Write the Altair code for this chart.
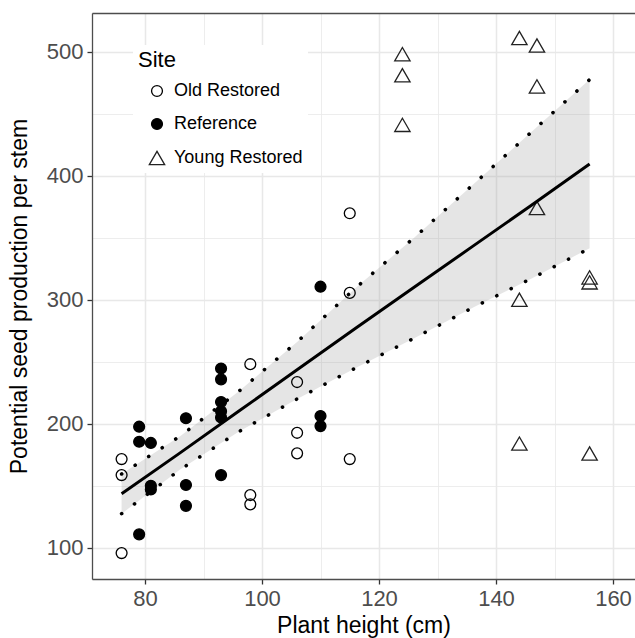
import altair as alt
import pandas as pd

# ---- data ----
site_names = ["Old Restored", "Reference", "Young Restored"]

old_height = [76, 76, 76, 98, 98, 98, 106, 106, 106, 115, 115, 115]
old_seed = [171.5, 158.6, 95.7, 248.0, 142.5, 135.0, 233.6, 192.7, 176.1, 171.5, 369.7, 305.5]

ref_height = [79, 79, 79, 81, 81, 81, 87, 87, 87, 93, 93, 93, 93, 93, 93, 110, 110, 110]
ref_seed = [197.6, 185.5, 110.8, 184.5, 150.0, 147.0, 204.4, 150.6, 133.8,
            244.5, 235.8, 217.5, 210.0, 205.0, 158.6, 310.5, 206.2, 198.1]

young_height = [124, 124, 124, 144, 144, 144, 147, 147, 147, 156, 156, 156]
young_seed = [498.0, 481.0, 441.0, 511.0, 300.0, 184.0, 505.0, 472.0, 374.0, 318.0, 314.0, 176.0]

band_height = [76, 86, 96, 106, 116, 126, 136, 146, 156]
band_fit = [143.5, 176.5, 210.0, 243.5, 277.0, 310.0, 343.0, 376.0, 409.5]
band_lower = [127.5, 163.0, 193.5, 220.0, 245.0, 269.0, 293.5, 317.0, 341.5]
band_upper = [159.5, 190.0, 226.0, 266.0, 309.5, 350.0, 392.5, 435.0, 477.5]

x_ticks = [80, 90, 100, 110, 120, 130, 140, 150, 160]
y_ticks = [100, 150, 200, 250, 300, 350, 400, 450, 500]
x_domain = [70.94, 163.76]
y_domain = [74.8, 531.2]

# ---- tables ----
points = pd.DataFrame({
    "height": old_height + ref_height + young_height,
    "seed": old_seed + ref_seed + young_seed,
    "Site": [site_names[0]] * len(old_height)
    + [site_names[1]] * len(ref_height)
    + [site_names[2]] * len(young_height),
})
band = pd.DataFrame({"height": band_height, "fit": band_fit,
                     "lower": band_lower, "upper": band_upper})
bounds = band.melt(id_vars="height", value_vars=["lower", "upper"],
                   var_name="bound", value_name="seed")

FONT = "Liberation Sans"
xs = alt.Scale(domain=x_domain, nice=False, zero=False)
ys = alt.Scale(domain=y_domain, nice=False, zero=False)

grid_col = "#e8e8e8"
x_axis = alt.Axis(
    orient="bottom", values=x_ticks, title="Plant height (cm)",
    labelExpr="datum.value % 20 === 0 ? datum.label : ''",
    grid=True, gridColor=grid_col,
    gridWidth={"condition": {"test": "datum.value % 20 === 0", "value": 1.5}, "value": 0.8},
    tickOpacity={"condition": {"test": "datum.value % 20 === 0", "value": 1}, "value": 0},
    tickColor="#333333", tickWidth=1.3, tickSize=5,
    domain=True, domainColor="#4d4d4d", domainWidth=1.3,
    labelFont=FONT, labelFontSize=22, labelColor="#4d4d4d", labelPadding=4,
    titleFont=FONT, titleFontSize=23, titleColor="black", titleFontWeight="normal",
    titleBaseline="alphabetic", titleY=53,
)
y_axis = alt.Axis(
    orient="left", values=y_ticks, title="Potential seed production per stem",
    labelExpr="datum.value % 100 === 0 ? datum.label : ''",
    grid=True, gridColor=grid_col,
    gridWidth={"condition": {"test": "datum.value % 100 === 0", "value": 1.5}, "value": 0.8},
    tickOpacity={"condition": {"test": "datum.value % 100 === 0", "value": 1}, "value": 0},
    tickColor="#333333", tickWidth=1.3, tickSize=5,
    domain=True, domainColor="#4d4d4d", domainWidth=1.3,
    labelFont=FONT, labelFontSize=22, labelColor="#4d4d4d", labelPadding=4,
    titleFont=FONT, titleFontSize=23, titleColor="black", titleFontWeight="normal",
    titleBaseline="alphabetic", titleX=-66,
)
top_axis = alt.Axis(orient="top", domain=True, domainColor="#4d4d4d", domainWidth=1.3,
                    labels=False, ticks=False, grid=False, title=None)

circle_path = "M0.68,0A0.68,0.68,0,1,1,-0.68,0A0.68,0.68,0,1,1,0.68,0Z"
tri_path = "M-0.96,0.83L0.96,0.83L0,-0.83Z"

legend = alt.Legend(
    orient="none", legendX=41, legendY=32, title="Site",
    fillColor="white", padding=5,
    titleFont=FONT, titleFontSize=22, titleColor="black", titleFontWeight="normal",
    titlePadding=10,
    labelFont=FONT, labelFontSize=18, labelColor="black",
    symbolSize=256, symbolStrokeColor="black", symbolStrokeWidth=1.3,
    symbolOpacity=1, symbolOffset=10, labelOffset=8, rowPadding=15,
)

ribbon = alt.Chart(band).mark_area(color="#999999", opacity=0.25).encode(
    x=alt.X("height:Q", scale=xs, axis=None),
    y=alt.Y("lower:Q", scale=ys, axis=None),
    y2="upper:Q",
)

pts = alt.Chart(points).mark_point(
    strokeWidth=1.3, size=256, opacity=1, filled=False
).encode(
    x=alt.X("height:Q", scale=xs, axis=x_axis),
    y=alt.Y("seed:Q", scale=ys, axis=y_axis),
    shape=alt.Shape("Site:N", scale=alt.Scale(domain=site_names,
                    range=[circle_path, circle_path, tri_path]), legend=legend),
    fill=alt.Fill("Site:N", scale=alt.Scale(domain=site_names,
                  range=["transparent", "black", "transparent"]), legend=legend),
    stroke=alt.Stroke("Site:N", scale=alt.Scale(domain=site_names,
                      range=["black", "black", "#222222"]), legend=legend),
)

dotted = alt.Chart(bounds).mark_line(
    color="black", strokeWidth=3.6, strokeDash=[0.1, 16], strokeCap="round"
).encode(
    x=alt.X("height:Q", scale=xs, axis=None),
    y=alt.Y("seed:Q", scale=ys, axis=None),
    detail="bound:N",
)

fit = alt.Chart(band).mark_line(color="black", strokeWidth=3).encode(
    x=alt.X("height:Q", scale=xs, axis=top_axis),
    y=alt.Y("fit:Q", scale=ys, axis=None),
)

chart = alt.layer(ribbon, pts, dotted, fit).resolve_axis(
    x="independent", y="independent"
).properties(
    width=543, height=566,
    padding={"left": 92, "top": 13, "right": 0, "bottom": 59},
    autosize=alt.AutoSizeParams(type="none"),
).configure_view(stroke="transparent").configure(font=FONT)

chart.save("out.html", embed_options={"renderer": "svg", "actions": False})
